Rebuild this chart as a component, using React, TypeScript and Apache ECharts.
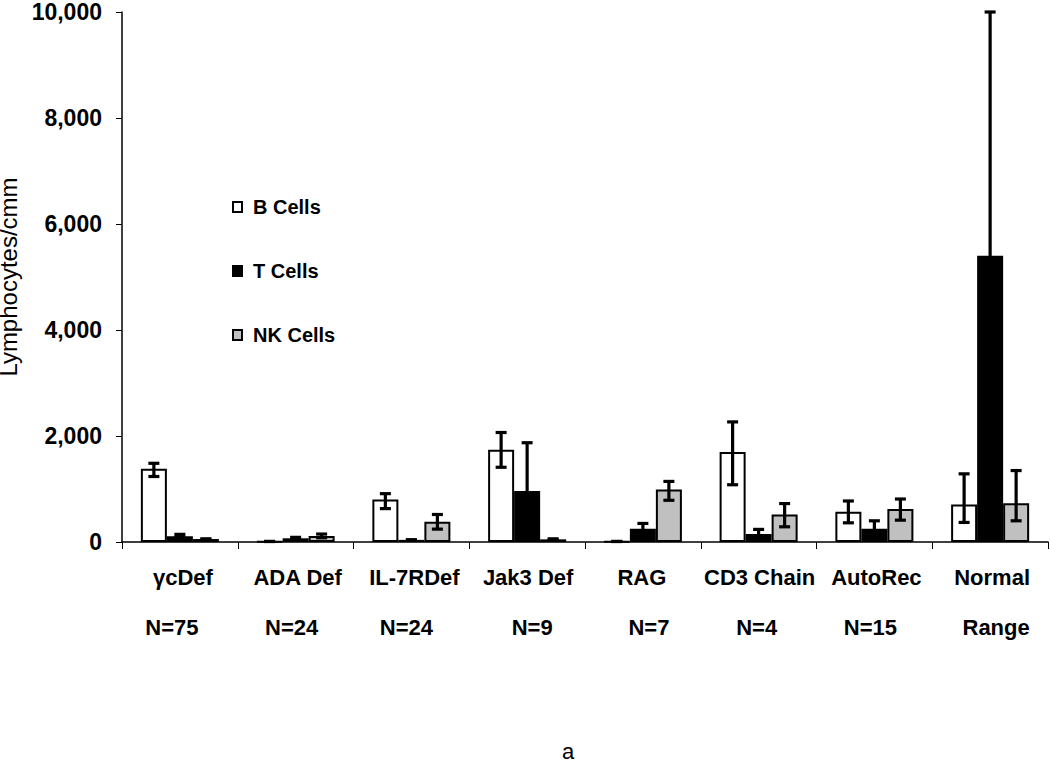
import React, { useEffect, useRef } from "react";
import * as echarts from "echarts";

const categories = [
  "γcDef\nN=75",
  "ADA Def\nN=24",
  "IL-7RDef\nN=24",
  "Jak3 Def\nN=9",
  "RAG\nN=7",
  "CD3 Chain\nN=4",
  "AutoRec\nN=15",
  "Normal\nRange",
];
const seriesNames = ["B Cells", "T Cells", "NK Cells"];
const bValues = [1380, 10, 800, 1740, 10, 1700, 570, 706];
const tValues = [110, 70, 40, 960, 250, 150, 250, 5400];
const nkValues = [56, 112, 380, 50, 990, 519, 624, 730];
const bLow = [1236, 10, 630, 1410, 10, 1080, 362, 369];
const bHigh = [1485, 10, 912, 2066, 10, 2266, 774, 1286];
const tLow = [90, 50, 40, 50, 180, 90, 130, 800];
const tHigh = [144, 88, 40, 1873, 350, 238, 400, 10000];
const nkLow = [56, 80, 243, 40, 787, 287, 412, 400];
const nkHigh = [56, 150, 519, 60, 1143, 725, 811, 1348];
const yTicks = { min: 0, max: 10000, interval: 2000 };

// small horizontal nudges of the two label lines (px), as in the reference
const line1Shift = [3, 2, 3, 1, -1, 1, 2, 2];
const line2Shift = [-8, -4, -5, 5, 6, -2, -4, 6];

const FONT = "'Liberation Sans', Arial, sans-serif";
const CAT_GAP = 0.326;

function errData(low: number[], high: number[]) {
  return low.map((l, i) => [i, l, high[i]]);
}

function makeErr(seriesIdx: number, low: number[], high: number[]) {
  return {
    type: "custom",
    name: "err" + seriesIdx,
    z: 10,
    silent: true,
    data: errData(low, high),
    encode: { x: 0, y: [1, 2] },
    renderItem: (params: any, api: any) => {
      const cat = api.value(0);
      const lo = api.value(1);
      const hi = api.value(2);
      const band = api.size([1, 0])[0];
      const bw = (band * (1 - CAT_GAP)) / 3;
      const pLo = api.coord([cat, lo]);
      const pHi = api.coord([cat, hi]);
      const x = pLo[0] + (seriesIdx - 1) * bw;
      const cap = 5.5;
      const style = { stroke: "#000", lineWidth: 3.2 };
      return {
        type: "group",
        children: [
          { type: "line", shape: { x1: x, y1: pLo[1], x2: x, y2: pHi[1] }, style },
          { type: "line", shape: { x1: x - cap, y1: pHi[1], x2: x + cap, y2: pHi[1] }, style },
          { type: "line", shape: { x1: x - cap, y1: pLo[1], x2: x + cap, y2: pLo[1] }, style },
        ],
      };
    },
  };
}

function pad(dx: number) {
  return dx >= 0 ? [0, 0, 0, 2 * dx] : [0, -2 * dx, 0, 0];
}

export default function App() {
  const ref = useRef<HTMLDivElement>(null);
  useEffect(() => {
    if (!ref.current) return;
    const chart = echarts.init(ref.current, null, { renderer: "svg" });
    const barStyle = (color: string) => ({
      color,
      borderColor: "#000",
      borderWidth: 2,
    });
    const rich: Record<string, any> = {};
    categories.forEach((_, i) => {
      const base = { fontFamily: FONT, fontWeight: "bold", fontSize: 22, color: "#000", lineHeight: 50 };
      rich["a" + i] = { ...base, padding: pad(line1Shift[i]) };
      rich["b" + i] = { ...base, padding: pad(line2Shift[i]) };
    });
    chart.setOption({
      animation: false,
      backgroundColor: "#fff",
      textStyle: { fontFamily: FONT },
      grid: { left: 122, right: 2, top: 12, bottom: 225, outerBoundsMode: "none", containLabel: false },
      legend: {
        orient: "vertical",
        left: 227,
        top: 192,
        itemGap: 44,
        itemWidth: 9,
        itemHeight: 10,
        icon: "rect",
        data: seriesNames,
        textStyle: {
          fontFamily: FONT,
          fontWeight: "bold",
          fontSize: 20,
          color: "#000",
          padding: [0, 0, 0, 6],
        },
      },
      xAxis: {
        type: "category",
        data: categories,
        axisLine: { lineStyle: { color: "#000", width: 1.5 } },
        axisTick: { show: true, length: 7, lineStyle: { color: "#000" } },
        axisLabel: {
          color: "#000",
          fontFamily: FONT,
          fontWeight: "bold",
          fontSize: 22,
          lineHeight: 50,
          margin: 10,
          interval: 0,
          rich,
          formatter: (v: string, i: number) => {
            const [l1, l2] = v.split("\n");
            return `{a${i}|${l1}}\n{b${i}|${l2}}`;
          },
        },
      },
      yAxis: {
        type: "value",
        min: yTicks.min,
        max: yTicks.max,
        interval: yTicks.interval,
        name: "Lymphocytes/cmm",
        nameLocation: "middle",
        nameGap: 88,
        nameTextStyle: { color: "#000", fontFamily: FONT, fontWeight: "normal", fontSize: 24, lineHeight: 22 },
        axisLine: { show: true, lineStyle: { color: "#000", width: 1.5 } },
        axisTick: { show: true, length: 6, lineStyle: { color: "#000" } },
        splitLine: { show: false },
        axisLabel: {
          color: "#000",
          fontFamily: FONT,
          fontWeight: "bold",
          fontSize: 23,
          lineHeight: 16,
          margin: 20,
          formatter: (v: number) => v.toLocaleString("en-US"),
        },
      },
      series: [
        { type: "bar", name: seriesNames[0], data: bValues, barGap: "0%", barCategoryGap: "32.6%", itemStyle: barStyle("#ffffff") },
        { type: "bar", name: seriesNames[1], data: tValues, barGap: "0%", barCategoryGap: "32.6%", itemStyle: barStyle("#000000") },
        { type: "bar", name: seriesNames[2], data: nkValues, barGap: "0%", barCategoryGap: "32.6%", itemStyle: barStyle("#c0c0c0") },
        makeErr(0, bLow, bHigh),
        makeErr(1, tLow, tHigh),
        makeErr(2, nkLow, nkHigh),
      ],
      graphic: [
        {
          type: "text",
          left: 562,
          top: 740,
          style: { text: "a", fontFamily: FONT, fontSize: 22, fill: "#000" },
        },
      ],
    });
    return () => chart.dispose();
  }, []);
  return (
    <div
      ref={ref}
      style={{ position: "fixed", left: 0, top: 0, width: 1050, height: 767 }}
    />
  );
}
